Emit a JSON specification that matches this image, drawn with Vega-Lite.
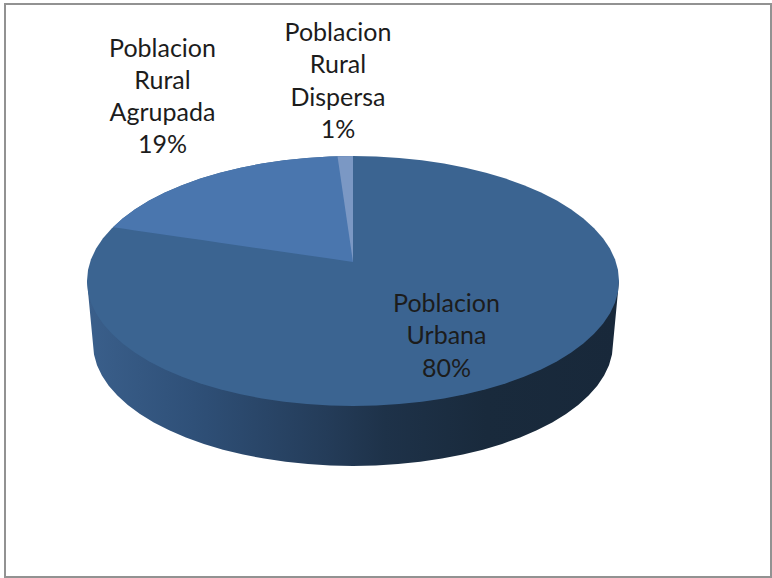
{"$schema":"https://vega.github.io/schema/vega-lite/v6.json","autosize":{"type":"fit","contains":"padding"},"width":772,"height":578,"padding":0,"background":"#ffffff","config":{"view":{"stroke":null}},
"datasets":{
"side":[{"x":87,"y":281,"y2":281},{"x":93,"y":344,"y2":281},{"x":94,"y":354.6,"y2":281},{"x":97,"y":365.2,"y2":281},{"x":101.9,"y":375.6,"y2":281},{"x":108.7,"y":385.7,"y2":281},{"x":117.4,"y":395.6,"y2":281},{"x":127.8,"y":405,"y2":281},{"x":140,"y":414,"y2":281},{"x":153.8,"y":422.4,"y2":281},{"x":169.2,"y":430.3,"y2":281},{"x":185.9,"y":437.5,"y2":281},{"x":203.9,"y":443.9,"y2":281},{"x":223,"y":449.7,"y2":281},{"x":243.1,"y":454.6,"y2":281},{"x":264.1,"y":458.6,"y2":281},{"x":285.7,"y":461.8,"y2":281},{"x":307.9,"y":464.1,"y2":281},{"x":330.3,"y":465.5,"y2":281},{"x":353,"y":466,"y2":281},{"x":375.7,"y":465.5,"y2":281},{"x":398.1,"y":464.1,"y2":281},{"x":420.3,"y":461.8,"y2":281},{"x":441.9,"y":458.6,"y2":281},{"x":462.9,"y":454.6,"y2":281},{"x":483,"y":449.7,"y2":281},{"x":502.1,"y":443.9,"y2":281},{"x":520.1,"y":437.5,"y2":281},{"x":536.8,"y":430.3,"y2":281},{"x":552.2,"y":422.4,"y2":281},{"x":566,"y":414,"y2":281},{"x":578.2,"y":405,"y2":281},{"x":588.6,"y":395.6,"y2":281},{"x":597.3,"y":385.7,"y2":281},{"x":604.1,"y":375.6,"y2":281},{"x":609,"y":365.2,"y2":281},{"x":612,"y":354.6,"y2":281},{"x":613,"y":344,"y2":281},{"x":619,"y":281,"y2":281}],
"urbana":[{"x":87,"y":281,"y2":281},{"x":88,"y":270.1,"y2":291.9},{"x":91,"y":259.3,"y2":302.7},{"x":96.1,"y":248.6,"y2":313.4},{"x":103,"y":238.2,"y2":323.8},{"x":111.9,"y":228.2,"y2":333.8},{"x":122.6,"y":218.5,"y2":343.5},{"x":135.1,"y":209.3,"y2":352.7},{"x":149.2,"y":200.6,"y2":361.4},{"x":164.9,"y":192.6,"y2":369.4},{"x":182,"y":185.2,"y2":376.8},{"x":200.4,"y":178.6,"y2":383.4},{"x":220,"y":172.7,"y2":389.3},{"x":240.6,"y":167.7,"y2":394.3},{"x":262,"y":163.5,"y2":398.5},{"x":284.2,"y":160.3,"y2":401.7},{"x":306.8,"y":157.9,"y2":404.1},{"x":329.8,"y":156.5,"y2":405.5},{"x":353,"y":156,"y2":406},{"x":376.2,"y":156.5,"y2":405.5},{"x":399.2,"y":157.9,"y2":404.1},{"x":421.8,"y":160.3,"y2":401.7},{"x":444,"y":163.5,"y2":398.5},{"x":465.4,"y":167.7,"y2":394.3},{"x":486,"y":172.7,"y2":389.3},{"x":505.6,"y":178.6,"y2":383.4},{"x":524,"y":185.2,"y2":376.8},{"x":541.1,"y":192.6,"y2":369.4},{"x":556.8,"y":200.6,"y2":361.4},{"x":570.9,"y":209.3,"y2":352.7},{"x":583.4,"y":218.5,"y2":343.5},{"x":594.1,"y":228.2,"y2":333.8},{"x":603,"y":238.2,"y2":323.8},{"x":609.9,"y":248.6,"y2":313.4},{"x":615,"y":259.3,"y2":302.7},{"x":618,"y":270.1,"y2":291.9},{"x":619,"y":281,"y2":281}],
"agrupada":[{"x":113,"y":227.2,"y2":227.2},{"x":122.6,"y":218.5,"y2":228.6},{"x":135.1,"y":209.3,"y2":230.4},{"x":149.2,"y":200.6,"y2":232.4},{"x":164.9,"y":192.6,"y2":234.7},{"x":182,"y":185.2,"y2":237.2},{"x":200.4,"y":178.6,"y2":239.8},{"x":220,"y":172.7,"y2":242.7},{"x":240.6,"y":167.7,"y2":245.7},{"x":262,"y":163.5,"y2":248.8},{"x":284.2,"y":160.3,"y2":252},{"x":306.8,"y":157.9,"y2":255.3},{"x":329.8,"y":156.5,"y2":258.6},{"x":353,"y":156,"y2":262}],
"dispersa":[{"x":337.5,"y":156.2,"y2":156.2},{"x":353,"y":156,"y2":262}],
"labels":[{"x":162.5,"y":48.5,"label":"Poblacion\nRural\nAgrupada\n19%"},{"x":338,"y":33,"label":"Poblacion\nRural\nDispersa\n1%"},{"x":446.5,"y":304,"label":"Poblacion\nUrbana\n80%"}],
"frame":[{"x":5,"x2":771,"y":4,"y2":577}]
},
"layer":[
{"data":{"name":"frame"},"mark":{"type":"rect","fillOpacity":0,"stroke":"#929292","strokeWidth":2},"encoding":{"x":{"field":"x","type":"quantitative","scale":{"domain":[0,772],"nice":false,"zero":false},"axis":null},"x2":{"field":"x2"},"y":{"field":"y","type":"quantitative","scale":{"domain":[578,0],"nice":false,"zero":false},"axis":null},"y2":{"field":"y2"}}},
{"data":{"name":"side"},"mark":{"type":"area","line":false,"fill":{"gradient":"linear","x1":0,"x2":1,"y1":0,"y2":0,"stops":[{"offset":0,"color":"#3a5f8b"},{"offset":0.2,"color":"#2f5078"},{"offset":0.45,"color":"#243c59"},{"offset":0.56,"color":"#1e3249"},{"offset":0.75,"color":"#192a3c"},{"offset":1,"color":"#18283a"}]}},"encoding":{"x":{"field":"x","type":"quantitative","axis":null},"y":{"field":"y","type":"quantitative","axis":null},"y2":{"field":"y2"}}},
{"data":{"name":"urbana"},"mark":{"type":"area","color":"#3b6491"},"encoding":{"x":{"field":"x","type":"quantitative","axis":null},"y":{"field":"y","type":"quantitative","axis":null},"y2":{"field":"y2"}}},
{"data":{"name":"agrupada"},"mark":{"type":"area","color":"#4a76ae"},"encoding":{"x":{"field":"x","type":"quantitative","axis":null},"y":{"field":"y","type":"quantitative","axis":null},"y2":{"field":"y2"}}},
{"data":{"name":"dispersa"},"mark":{"type":"area","color":"#7b98c4"},"encoding":{"x":{"field":"x","type":"quantitative","axis":null},"y":{"field":"y","type":"quantitative","axis":null},"y2":{"field":"y2"}}},
{"data":{"name":"labels"},"mark":{"type":"text","font":"Lato","fontSize":25,"color":"#1c1c1c","align":"center","baseline":"middle","lineBreak":"\n","lineHeight":32.3},"encoding":{"x":{"field":"x","type":"quantitative","axis":null},"y":{"field":"y","type":"quantitative","axis":null},"text":{"field":"label"}}}
]}
